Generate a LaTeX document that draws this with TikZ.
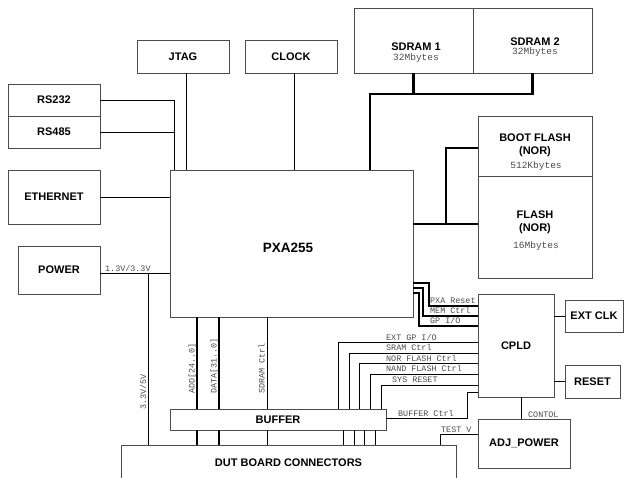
\documentclass[tikz,border=0pt]{standalone}
\usepackage{fontspec}
\setmainfont{Liberation Sans}
\newfontfamily\monof{Liberation Mono}
\tikzset{
 box/.style={draw=black!70, line width=0.9pt, fill=white, inner sep=0pt, font=\bfseries\fontsize{11}{13}\selectfont},
 wire/.style={draw=black, line width=1pt},
 bus/.style={draw=black, line width=2.6pt},
 sig/.style={draw=black, line width=1.5pt},
 lbl/.style={inner sep=0pt, font=\monof\fontsize{8.4}{9}\selectfont, text=black!70},
 sz/.style={inner sep=0pt, font=\monof\fontsize{9.5}{10}\selectfont, text=black!70},
 tt/.style={inner sep=0pt, font=\bfseries\fontsize{11}{13}\selectfont},
}
\begin{document}
\begin{tikzpicture}[x=1pt,y=-1pt]
\clip (0,0) rectangle (626,477);
\fill[white] (0,0) rectangle (626,477);
% boxes
\node[box, minimum width=92, minimum height=33] (jtag) at (183,56.5) {JTAG};
\node[box, minimum width=92, minimum height=33] (clock) at (291,56.5) {CLOCK};
\node[box, minimum width=119, minimum height=65] (sdram1) at (413.5,40.5) {};
\node[box, minimum width=119, minimum height=65] (sdram2) at (532.5,40.5) {};
\node[tt] (s1t) at (416,47) {SDRAM 1};
\node[sz] (s1s) at (416,58) {32Mbytes};
\node[tt] (s2t) at (535,42) {SDRAM 2};
\node[sz] (s2s) at (535,52.5) {32Mbytes};
\node[box, minimum width=92, minimum height=32] (rs232) at (54,100) {RS232};
\node[box, minimum width=92, minimum height=32] (rs485) at (54,132) {RS485};
\node[box, minimum width=92, minimum height=54] (eth) at (54,197) {ETHERNET};
\node[box, minimum width=243, minimum height=147, font=\bfseries\fontsize{13.5}{15}\selectfont] (pxa) at (291.5,243.5) {};
\node[tt, font=\bfseries\fontsize{13.5}{15}\selectfont] (pxat) at (288,248) {PXA255};
\node[box, minimum width=82, minimum height=48] (power) at (59,270) {POWER};
\node[box, minimum width=114, minimum height=60] (bootflash) at (535,146) {};
\node[tt] (b1) at (535,138) {BOOT FLASH};
\node[tt] (b2) at (535,152) {(NOR)};
\node[sz] (b3) at (536,166) {512Kbytes};
\node[box, minimum width=114, minimum height=102] (flash) at (535,227) {};
\node[tt] (f1) at (535,215) {FLASH};
\node[tt] (f2) at (535,229) {(NOR)};
\node[sz] (f3) at (536,246) {16Mbytes};
\node[box, minimum width=76, minimum height=103] (cpld) at (516,345.5) {CPLD};
\node[box, minimum width=58, minimum height=32] (extclk) at (594,316) {EXT CLK};
\node[box, minimum width=55, minimum height=33] (reset) at (592.5,381.5) {RESET};
\node[box, minimum width=92, minimum height=49] (adj) at (524,443.5) {ADJ\_POWER};
\node[box, minimum width=216, minimum height=21] (buffer) at (278,419.5) {BUFFER};
\node[box, minimum width=335, minimum height=36] (dut) at (288.5,463) {DUT BOARD CONNECTORS};
% left side connectors
\draw[wire] (rs232.east) -| ([xshift=5pt]pxa.north west);
\draw[wire] (rs485.east) -| ([xshift=5pt]pxa.north west);
\draw[wire] ([xshift=3pt]jtag.south) -- ([xshift=3pt]jtag.south |- pxa.north);
\draw[wire] ([xshift=3pt]clock.south) -- ([xshift=3pt]clock.south |- pxa.north);
\draw[wire] (eth.east) -- (eth.east -| pxa.west);
\draw[wire] ([yshift=-3pt]power.east) -- ([yshift=-3pt]power.east -| pxa.west);
\node[lbl, anchor=base west] (l13) at (105,271) {1.3V/3.3V};
\coordinate (pj) at (148,273);
\draw[wire] (pj) -- (pj |- dut.north);
\node[lbl, rotate=90, anchor=base west] (l33) at (146,410) {3.3V/5V};
% memory buses
\coordinate (sj) at (370,94);
\draw[bus] (sdram1.south) -- (sdram1.south |- sj);
\draw[bus] (sdram2.south) |- (sj) -- (sj |- pxa.north);
\coordinate (fj) at (446,224);
\draw[bus] ([yshift=-2pt]bootflash.west) -| (fj);
\draw[bus] (pxa.east |- fj) -- (flash.west |- fj);
% PXA to buffer
\draw[bus] (197,0 |- pxa.south) -- (197,0 |- buffer.north);
\draw[bus] (197,0 |- buffer.south) -- (197,0 |- dut.north);
\draw[bus] (219,0 |- pxa.south) -- (219,0 |- buffer.north);
\draw[bus] (219,0 |- buffer.south) -- (219,0 |- dut.north);
\draw[wire] (267,0 |- pxa.south) -- (267,0 |- buffer.north);
\draw[wire] (267,0 |- buffer.south) -- (267,0 |- dut.north);
\node[lbl, rotate=90, anchor=base west] (ladd) at (194.5,394) {ADD[24..0]};
\node[lbl, rotate=90, anchor=base west] (ldata) at (216.5,394) {DATA[31..0]};
\node[lbl, rotate=90, anchor=base west] (lsdc) at (264.5,394) {SDRAM Ctrl};
% PXA to CPLD
\draw[sig] (pxa.east |- 0,283) -| (429,306) -- (cpld.west |- 0,306);
\draw[sig] (pxa.east |- 0,288) -| (423,316) -- (cpld.west |- 0,316);
\draw[sig] (pxa.east |- 0,293) -| (419,326) -- (cpld.west |- 0,326);
\node[lbl, anchor=base west] (lpr) at (430,303.5) {PXA Reset};
\node[lbl, anchor=base west] (lmc) at (430,313.5) {MEM Ctrl};
\node[lbl, anchor=base west] (lgp) at (430,323.5) {GP I/O};
% CPLD to DUT
\draw[wire] (cpld.west |- 0,342.5) -| (338,0 |- buffer.north);
\draw[wire] (cpld.west |- 0,353) -| (349,0 |- buffer.north);
\draw[wire] (cpld.west |- 0,363.5) -| (359,0 |- buffer.north);
\draw[wire] (cpld.west |- 0,374) -| (370,0 |- buffer.north);
\draw[wire] (cpld.west |- 0,385) -| (381,0 |- buffer.north);
\node[lbl, anchor=base west] (lext) at (386,340) {EXT GP I/O};
\node[lbl, anchor=base west] (lsram) at (386,350.5) {SRAM Ctrl};
\node[lbl, anchor=base west] (lnor) at (386,361) {NOR FLASH Ctrl};
\node[lbl, anchor=base west] (lnand) at (386,371.5) {NAND FLASH Ctrl};
\node[lbl, anchor=base west] (lsys) at (392,382.5) {SYS RESET};
\foreach \xx in {343,354,364.5,375}{
  \draw[wire] (\xx,0 |- buffer.south) -- (\xx,0 |- dut.north);
}
\draw[wire] (buffer.east |- 0,418) -| (467,392) -- (cpld.west |- 0,392);
\node[lbl, anchor=base west] (lbc) at (398,416) {BUFFER Ctrl};
\draw[wire] (521,0 |- cpld.south) -- (521,0 |- adj.north);
\node[lbl, anchor=base west] (lcon) at (528,417) {CONTOL};
\draw[wire] (adj.west |- 0,434) -| (440,0 |- dut.north);
\node[lbl, anchor=base west] (ltv) at (441,432) {TEST V};
\draw[wire] (cpld.east |- extclk.west) -- (extclk.west);
\draw[wire] (cpld.east |- reset.west) -- (reset.west);
\end{tikzpicture}
\end{document}
